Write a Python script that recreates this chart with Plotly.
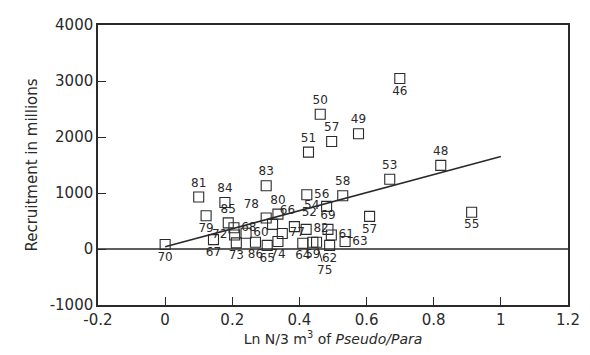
import plotly.graph_objects as go

# Data
year_labels = ["70", "81", "84", "83", "79", "85", "68", "67", "72", "73", "60", "86", "65",
               "78", "80", "66", "52", "82", "54", "56", "58", "69", "61", "63", "62", "59",
               "64", "74", "77", "57", "55", "53", "48", "46", "50", "57", "49", "51"]
x_vals = [0.0, 0.10, 0.178, 0.301, 0.122, 0.188, 0.205, 0.144, 0.207, 0.212, 0.241, 0.269, 0.304,
          0.301, 0.336, 0.320, 0.385, 0.420, 0.481, 0.422, 0.529, 0.485, 0.495, 0.536, 0.490, 0.440,
          0.410, 0.336, 0.349, 0.609, 0.913, 0.669, 0.821, 0.699, 0.462, 0.496, 0.576, 0.427]
y_vals = [80, 929, 830, 1130, 593, 467, 380, 168, 250, 110, 282, 121, 64,
          554, 623, 440, 400, 350, 761, 970, 952, 351, 250, 133, 64, 121,
          104, 133, 277, 583, 657, 1246, 1493, 3045, 2405, 1920, 2059, 1730]
label_pos = ["bottom center", "top center", "top center", "top center", "bottom center", "top center",
             "middle right", "bottom center", "middle left", "bottom center", "middle right",
             "bottom center", "bottom center", "top left", "top center", "top right", "top right",
             "middle right", "middle left", "middle right", "top center", "top center", "middle right",
             "middle right", "bottom center", "bottom center", "bottom center", "bottom center",
             "middle right", "bottom center", "bottom center", "top center", "top center",
             "bottom center", "top center", "top center", "top center", "top center"]

# extra point with a leader label
lead_label = ["75"]
lead_x = [0.451]
lead_y = [121]

fit_x = [0.0, 1.0]
fit_y = [40, 1650]
zero_x = [-0.2, 1.2]
zero_y = [0, 0]

x_ticks = [-0.2, 0, 0.2, 0.4, 0.6, 0.8, 1, 1.2]
x_tick_text = ["-0.2", "0", "0.2", "0.4", "0.6", "0.8", "1", "1.2"]
y_ticks = [-1000, 0, 1000, 2000, 3000, 4000]
y_tick_text = ["-1000", "0", "1000", "2000", "3000", "4000"]

ink = "#2a2a2a"
font_family = "DejaVu Sans, sans-serif"

fig = go.Figure()
fig.add_trace(go.Scatter(x=zero_x, y=zero_y, mode="lines",
                         line=dict(color=ink, width=1.6), hoverinfo="skip"))
fig.add_trace(go.Scatter(x=fit_x, y=fit_y, mode="lines",
                         line=dict(color=ink, width=1.6), hoverinfo="skip"))
fig.add_trace(go.Scatter(x=x_vals, y=y_vals, mode="markers+text", text=year_labels,
                         textposition=label_pos,
                         textfont=dict(size=12, color=ink, family=font_family),
                         marker=dict(symbol="square-open", size=10, color=ink,
                                     line=dict(width=1.1, color=ink))))
fig.add_trace(go.Scatter(x=lead_x, y=lead_y, mode="markers",
                         marker=dict(symbol="square-open", size=10, color=ink,
                                     line=dict(width=1.1, color=ink))))
for lx, ly, lt in zip(lead_x, lead_y, lead_label):
    fig.add_annotation(x=lx, y=ly, text=lt, showarrow=True, arrowhead=0, arrowwidth=1,
                       arrowcolor=ink, ax=8, ay=28, standoff=6,
                       font=dict(size=12, color=ink, family=font_family))

fig.update_layout(
    width=582, height=347,
    margin=dict(l=90, r=22, t=8, b=50),
    paper_bgcolor="white", plot_bgcolor="white",
    showlegend=False,
    font=dict(family=font_family, color=ink),
)
fig.update_xaxes(range=[-0.2, 1.2], tickvals=x_ticks, ticktext=x_tick_text,
                 ticks="inside", ticklen=8, tickwidth=1, tickcolor=ink,
                 showline=True, linecolor=ink, linewidth=1.5, mirror=True,
                 showgrid=False, zeroline=False, ticklabeloverflow="allow",
                 tickfont=dict(size=15, color=ink, family=font_family),
                 title=dict(text="Ln N/3 m<sup>3</sup> of <i>Pseudo/Para</i>",
                            font=dict(size=14, color=ink, family=font_family), standoff=4))
fig.update_yaxes(range=[-1000, 4000], tickvals=y_ticks, ticktext=y_tick_text,
                 ticks="inside", ticklen=8, tickwidth=1, tickcolor=ink,
                 showline=True, linecolor=ink, linewidth=1.5, mirror=True,
                 showgrid=False, zeroline=False, ticklabeloverflow="allow",
                 tickfont=dict(size=15, color=ink, family=font_family),
                 title=dict(text="Recruitment in millions",
                            font=dict(size=15, color=ink, family=font_family), standoff=8))

fig.write_html("out.html")
